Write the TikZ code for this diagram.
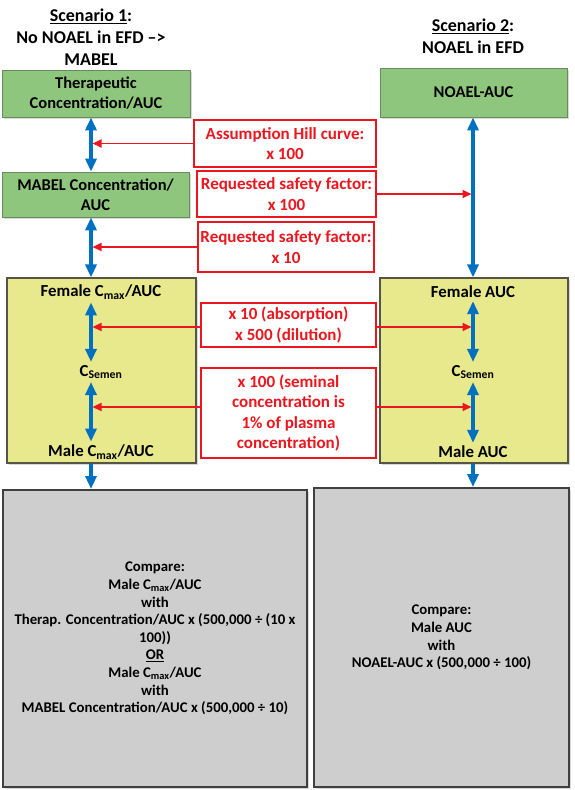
\documentclass[tikz,border=0pt]{standalone}
\usepackage{fontspec}
\setmainfont{Carlito}
\usetikzlibrary{arrows.meta,shadows}
\definecolor{gfill}{RGB}{143,198,126}
\definecolor{gline}{RGB}{105,140,95}
\definecolor{yfill}{RGB}{232,232,140}
\definecolor{yline}{RGB}{85,85,70}
\definecolor{grfill}{RGB}{206,206,206}
\definecolor{grline}{RGB}{64,64,64}
\definecolor{myred}{RGB}{235,22,30}
\definecolor{myblue}{RGB}{0,112,192}
\begin{document}
\begin{tikzpicture}[x=1pt,y=-1pt,
  shd/.style={drop shadow={shadow xshift=1.5pt,shadow yshift=-1.5pt,opacity=0.3}},
  basebox/.style={inner sep=0pt,align=center,font=\bfseries\fontsize{16.5}{20}\selectfont},
  greenbox/.style={basebox,shd,fill=gfill,draw=gline,line width=0.8pt},
  yellowbox/.style={basebox,shd,fill=yfill,draw=yline,line width=1.2pt},
  graybox/.style={basebox,shd,fill=grfill,draw=grline,line width=2pt,font=\bfseries\fontsize{14.8}{17.6}\selectfont},
  redbox/.style={basebox,fill=white,draw=myred,line width=1.6pt,text=myred,font=\bfseries\fontsize{17}{20.5}\selectfont},
  lbl/.style={inner sep=0pt,font=\bfseries\fontsize{16.8}{18}\selectfont},
  ttl/.style={inner sep=0pt,align=center,font=\bfseries\fontsize{18}{22}\selectfont},
  bdbl/.style={draw=myblue,line width=3.2pt,{Triangle[length=13pt,width=11pt]}-{Triangle[length=13pt,width=11pt]}},
  bone/.style={draw=myblue,line width=3.2pt,-{Triangle[length=13pt,width=11pt]}},
  rarr/.style={draw=myred,line width=1.7pt,-{Triangle[length=9pt,width=8pt]}}
]
\useasboundingbox (0,0) rectangle (574,790);
\coordinate (colL) at (91,0);
\coordinate (colR) at (473,0);

% titles
\node[ttl] (t1) at (91,37) {\underline{Scenario 1}:\\No NOAEL in EFD –>\\MABEL};
\node[ttl] (t2) at (473,36) {\underline{Scenario 2}:\\NOAEL in EFD};

% green boxes
\node[greenbox,minimum width=188pt,minimum height=47pt] (g1) at (96,93.5) {Therapeutic\\Concentration/AUC};
\node[greenbox,minimum width=187pt,minimum height=49pt] (g2) at (473.5,92.5) {NOAEL-AUC};
\node[greenbox,minimum width=187pt,minimum height=45pt] (mab) at (95.5,194.5) {MABEL Concentration/\\AUC};

% yellow boxes
\node[yellowbox,minimum width=189pt,minimum height=185pt] (y1) at (101.5,370.5) {};
\node[yellowbox,minimum width=188pt,minimum height=185pt] (y2) at (474,370.5) {};
\node[lbl] (f1) at (101,292) {Female C\textsubscript{max}/AUC};
\node[lbl] (c1) at (101,372) {C\textsubscript{Semen}};
\node[lbl] (m1) at (101,452) {Male C\textsubscript{max}/AUC};
\node[lbl] (f2) at (473,292) {Female AUC};
\node[lbl] (c2) at (473,372) {C\textsubscript{Semen}};
\node[lbl] (m2) at (473,452) {Male AUC};

% gray boxes
\node[graybox,minimum width=304pt,minimum height=297pt] (gr1) at (155,638.5) {Compare:\\Male C\textsubscript{max}/AUC\\with\\Therap. Concentration/AUC x (500,000 ÷ (10 x\\100))\\\underline{OR}\\Male C\textsubscript{max}/AUC\\with\\MABEL Concentration/AUC x (500,000 ÷ 10)};
\node[graybox,minimum width=255pt,minimum height=299pt] (gr2) at (441.5,637.5) {Compare:\\Male AUC\\with\\NOAEL-AUC x (500,000 ÷ 100)};

% red boxes
\node[redbox,minimum width=182pt,minimum height=47pt] (r1) at (285,143.5) {Assumption Hill curve:\\x 100};
\node[redbox,minimum width=179pt,minimum height=46pt] (r2) at (286.5,194) {Requested safety factor:\\x 100};
\node[redbox,minimum width=176pt,minimum height=50pt] (r3) at (286,247) {Requested safety factor:\\x 10};
\node[redbox,minimum width=175pt,minimum height=44pt] (r4) at (288.5,325) {x 10 (absorption)\\x 500 (dilution)};
\node[redbox,minimum width=175pt,minimum height=90pt] (r5) at (288.5,413) {x 100 (seminal\\concentration is\\1\% of plasma\\concentration)};

% blue arrows, left column
\draw[bdbl] (g1.south -| colL) -- (mab.north -| colL);
\draw[bdbl] (mab.south -| colL) -- (y1.north -| colL);
\draw[bdbl,shorten <=3pt,shorten >=3pt] (f1.south -| colL) -- (c1.north -| colL);
\draw[bdbl,shorten <=3pt,shorten >=3pt] (c1.south -| colL) -- (m1.north -| colL);
\draw[bone] (y1.south -| colL) -- (gr1.north -| colL);

% blue arrows, right column
\draw[bdbl] (g2.south -| colR) -- (y2.north -| colR);
\draw[bdbl,shorten <=3pt,shorten >=3pt] (f2.south -| colR) -- (c2.north -| colR);
\draw[bdbl,shorten <=3pt,shorten >=3pt] (c2.south -| colR) -- (m2.north -| colR);
\draw[bone] (y2.south -| colR) -- (gr2.north -| colR);

% red arrows
\draw[rarr,shorten >=1.5pt] (r1.west) -- (r1.west -| colL);
\draw[rarr,shorten >=1.5pt] (r2.east) -- (r2.east -| colR);
\draw[rarr,shorten >=1.5pt] (r3.west) -- (r3.west -| colL);
\draw[rarr,shorten >=1.5pt] ([yshift=-2pt]r4.west) -- ([yshift=-2pt]r4.west -| colL);
\draw[rarr,shorten >=1.5pt] ([yshift=-2pt]r4.east) -- ([yshift=-2pt]r4.east -| colR);
\draw[rarr,shorten >=1.5pt] ([yshift=6pt]r5.west) -- ([yshift=6pt]r5.west -| colL);
\draw[rarr,shorten >=1.5pt] ([yshift=6pt]r5.east) -- ([yshift=6pt]r5.east -| colR);
\end{tikzpicture}
\end{document}
